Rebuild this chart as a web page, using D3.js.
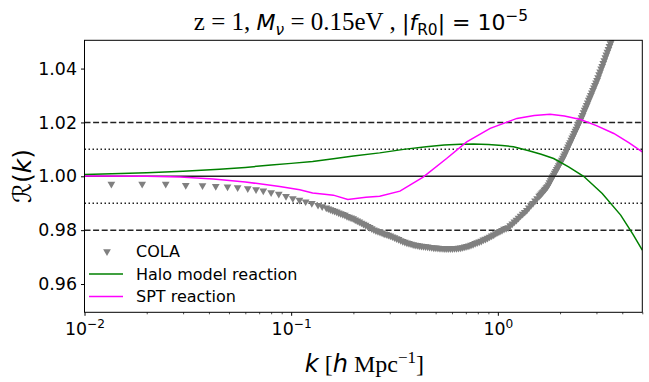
<!DOCTYPE html>
<html><head><meta charset="utf-8">
<script src="https://cdn.jsdelivr.net/npm/d3@7"></script>
<style>
html,body{margin:0;padding:0;background:#fff;}
svg{display:block;}
text{font-family:"DejaVu Sans",sans-serif;fill:#000;}
</style></head>
<body>
<svg id="chart" width="649" height="382"></svg>
<script>
// ---- data ----
// COLA points: log10(k [h/Mpc]) and reaction value
const colaLog10K = [-1.870,-1.721,-1.607,-1.510,-1.429,-1.365,-1.308,-1.259,-1.210,-1.170,-1.135,-1.097,-1.060,-1.025,-0.992,
-0.96,-0.93,-0.90,-0.87,-0.85,
-0.83,-0.82,-0.81,-0.80,-0.79,-0.78,-0.77,-0.76,-0.75,-0.74,-0.73,-0.72,-0.71,-0.70,-0.69,-0.68,-0.67,-0.66,-0.65,-0.64,
-0.63,-0.62,-0.61,-0.60,-0.59,-0.58,-0.57,-0.56,-0.55,-0.54,-0.53,-0.52,-0.51,-0.50,-0.49,-0.48,-0.47,-0.46,-0.45,-0.44,
-0.43,-0.42,-0.41,-0.40,-0.39,-0.38,-0.37,-0.36,-0.35,-0.34,-0.33,-0.32,-0.31,-0.30,-0.29,-0.28,-0.27,-0.26,-0.25,-0.24,
-0.23,-0.22,-0.21,-0.20,-0.19,-0.18,-0.17,-0.16,-0.15,-0.14,-0.13,-0.12,-0.11,-0.10,-0.09,-0.08,-0.07,-0.06,-0.05,-0.04,
-0.03,-0.02,-0.01,0.00,0.01,0.02,0.03,0.04,0.05,0.06,0.07,0.08,0.09,0.10,0.11,0.12,0.13,0.14,0.15,0.16,0.17,0.18,0.19,0.20,
0.205,0.21,0.215,0.22,0.225,0.23,0.235,0.24,0.245,0.25,0.255,0.26,0.265,0.27,0.275,0.28,0.285,0.29,0.295,0.30,
0.305,0.31,0.315,0.32,0.325,0.33,0.335,0.34,0.345,0.35,0.355,0.36,0.365,0.37,0.375,0.38,0.385,0.39,0.395,0.40,
0.405,0.41,0.415,0.42,0.425,0.43,0.435,0.44,0.445,0.45,0.455,0.46,0.465,0.47,0.475,0.48,0.485,0.49,0.495,0.50,
0.505,0.51,0.515,0.52,0.525,0.53,0.535,0.54,0.545,0.55,0.555,0.56];
const colaR = [0.9971,0.9971,0.9971,0.9967,0.9966,0.9963,0.9961,0.9958,0.9955,0.9951,0.9946,0.9940,0.9934,0.9926,0.9918,
0.9912,0.9906,0.9900,0.9893,0.9888,
0.9883,0.9880,0.9877,0.9874,0.9871,0.9868,0.9865,0.9862,0.9859,0.9856,0.9852,0.9849,0.9846,0.9843,0.9839,0.9835,0.9831,0.9827,0.9823,0.9819,
0.9815,0.9811,0.9806,0.9802,0.9799,0.9796,0.9793,0.9790,0.9787,0.9785,0.9782,0.9779,0.9776,0.9773,0.9769,0.9766,0.9762,0.9759,0.9756,0.9753,
0.9751,0.9749,0.9747,0.9745,0.9744,0.9742,0.9741,0.9740,0.9739,0.9738,0.9737,0.9736,0.9735,0.9735,0.9734,0.9733,0.9733,0.9732,0.9732,0.9732,
0.9732,0.9732,0.9733,0.9733,0.9734,0.9735,0.9736,0.9738,0.9740,0.9742,0.9745,0.9748,0.9751,0.9754,0.9757,0.9760,0.9764,0.9767,0.9771,0.9775,
0.9779,0.9783,0.9788,0.9792,0.9796,0.9800,0.9804,0.9807,0.9810,0.9817,0.9824,0.9831,0.9838,0.9845,0.9853,0.9860,0.9867,0.9874,0.9883,0.9892,0.9900,0.9909,0.9918,0.9927,
0.9931,0.9935,0.9940,0.9944,0.9949,0.9953,0.9958,0.9962,0.9969,0.9977,0.9984,0.9991,0.9998,1.0005,1.0012,1.0019,1.0026,1.0033,1.0040,1.0047,
1.0054,1.0061,1.0068,1.0076,1.0084,1.0093,1.0101,1.0110,1.0118,1.0126,1.0135,1.0143,1.0151,1.0160,1.0168,1.0176,1.0185,1.0193,1.0201,1.0209,
1.0218,1.0227,1.0237,1.0246,1.0255,1.0264,1.0273,1.0283,1.0292,1.0301,1.0310,1.0320,1.0329,1.0338,1.0347,1.0357,1.0367,1.0378,1.0388,1.0399,
1.0409,1.0420,1.0430,1.0441,1.0451,1.0462,1.0472,1.0483,1.0493,1.0504,1.0514,1.0525];

const haloK = [0.010,0.015,0.020,0.030,0.045,0.060,0.080,0.100,0.127,0.160,0.200,0.268,0.350,0.450,0.550,0.660,0.761,0.900,1.050,1.190,1.400,1.620,1.862,2.200,2.600,3.200,3.930,4.500,5.000];
const haloR = [1.0007,1.0010,1.0013,1.0019,1.0026,1.0033,1.0042,1.0048,1.0055,1.0065,1.0075,1.0087,1.0100,1.0110,1.0116,1.0119,1.0120,1.0118,1.0114,1.0110,1.0096,1.0082,1.0066,1.0035,1.0000,0.9936,0.9856,0.9785,0.9726];

const sptK = [0.010,0.020,0.029,0.042,0.060,0.088,0.110,0.127,0.145,0.160,0.188,0.230,0.268,0.336,0.435,0.565,0.707,0.918,1.237,1.500,1.790,2.100,2.510,3.000,3.640,4.300,5.000];
const sptR = [1.0001,1.0000,0.9997,0.9990,0.9979,0.9962,0.9950,0.9938,0.9933,0.9930,0.9914,0.9922,0.9926,0.9945,0.9997,1.0066,1.0128,1.0178,1.0215,1.0226,1.0230,1.0224,1.0211,1.0188,1.0159,1.0125,1.0091];

const refSolid = [1.00];
const refDashed = [1.02, 0.98];
const refDotted = [1.01, 0.99];
const yTicks = [0.96, 0.98, 1.00, 1.02, 1.04];
const xTicks = [0.01, 0.1, 1];
const xTickExp = ["\u22122", "\u22121", "0"];
const legendLabels = ["COLA", "Halo model reaction", "SPT reaction"];

// ---- layout ----
const L = 84.5, R = 642.3, T = 40.3, B = 312.3;
const svg = d3.select("#chart");
const x = d3.scaleLog().domain([0.01, 5]).range([L, R]);
const y = d3.scaleLinear().domain([0.9495, 1.0505]).range([B, T]);

svg.append("defs").append("clipPath").attr("id","clip")
  .append("rect").attr("x",L).attr("y",T).attr("width",R-L).attr("height",B-T);
const plot = svg.append("g").attr("clip-path","url(#clip)");

// reference lines
const hline = (vals, dash, w) => plot.selectAll(null).data(vals).enter().append("line")
  .attr("x1",L).attr("x2",R).attr("y1",d=>y(d)).attr("y2",d=>y(d))
  .attr("stroke","#222").attr("stroke-width",w).attr("stroke-dasharray",dash);
hline(refDashed, "6,2.6", 1.5);
hline(refDotted, "1.5,2.5", 1.5);

// COLA markers (down triangles)
const tri = d3.symbol().type(d3.symbolTriangle).size(26);
plot.selectAll("path.cola").data(colaLog10K.map((lk,i)=>[Math.pow(10,lk),colaR[i]])).enter().append("path")
  .attr("class","cola")
  .attr("d", tri)
  .attr("transform", d=>`translate(${x(d[0])},${y(d[1])}) rotate(180)`)
  .attr("fill","#808080");

hline(refSolid, null, 1.5);

const line = d3.line().x(d=>x(d[0])).y(d=>y(d[1]));
plot.append("path").datum(haloK.map((k,i)=>[k,haloR[i]]))
  .attr("d",line).attr("fill","none").attr("stroke","#008000").attr("stroke-width",1.5);
plot.append("path").datum(sptK.map((k,i)=>[k,sptR[i]]))
  .attr("d",line).attr("fill","none").attr("stroke","#ff00ff").attr("stroke-width",1.5);

// frame
svg.append("rect").attr("x",L).attr("y",T).attr("width",R-L).attr("height",B-T)
  .attr("fill","none").attr("stroke","#000").attr("stroke-width",1);

// y axis
const yAxis = d3.axisLeft(y).tickValues(yTicks).tickSize(3.5).tickPadding(4).tickFormat(d3.format(".2f"));
const gy = svg.append("g").attr("transform",`translate(${L},0)`).call(yAxis);
gy.select(".domain").remove();
gy.selectAll("text").attr("font-size","17.4px").attr("font-family","DejaVu Sans").attr("fill","#000");
gy.selectAll("line").attr("stroke","#000");

// x axis (major + minor)
const minor = [];
[0.01,0.1,1].forEach(dec=>{for(let m=2;m<=9;m++){const v=dec*m; if(v<=5) minor.push(v);}});
const gxm = svg.append("g").attr("transform",`translate(0,${B})`)
  .call(d3.axisBottom(x).tickValues(minor).tickSize(2).tickFormat(""));
gxm.select(".domain").remove();
gxm.selectAll("line").attr("stroke","#000").attr("stroke-width",0.7);
const gx = svg.append("g").attr("transform",`translate(0,${B})`)
  .call(d3.axisBottom(x).tickValues(xTicks).tickSize(3.5).tickFormat(""));
gx.select(".domain").remove();
gx.selectAll("line").attr("stroke","#000");
gx.selectAll("g.tick").append("text")
  .attr("y", 23).attr("text-anchor","middle").attr("font-size","17.4px").attr("fill","#000")
  .each(function(d,i){
    const t = d3.select(this);
    t.append("tspan").text("10");
    t.append("tspan").attr("dy",-7).attr("font-size","12.2px").text(xTickExp[i]);
  });

// x label
const xl = svg.append("text").attr("x",(L+R)/2+1).attr("y",372).attr("text-anchor","middle").attr("font-size","24px");
xl.append("tspan").attr("font-style","italic").text("k");
xl.append("tspan").attr("font-family","Liberation Serif").text(" [");
xl.append("tspan").attr("font-style","italic").text("h");
xl.append("tspan").attr("font-family","Liberation Serif").text(" Mpc");
xl.append("tspan").attr("font-family","Liberation Serif").attr("font-size","17px").attr("dy",-9).text("\u22121");
xl.append("tspan").attr("font-family","Liberation Serif").attr("dy",9).text("]");

// y label
const yl = svg.append("text").attr("transform","translate(31,176) rotate(-90)").attr("text-anchor","middle").attr("font-size","25px");
yl.append("tspan").text("\u211B(");
yl.append("tspan").attr("font-style","italic").text("k");
yl.append("tspan").text(")");

// title
const tt = svg.append("text").attr("x",361).attr("y",30).attr("text-anchor","middle").attr("font-size","22px");
tt.append("tspan").attr("font-family","Liberation Serif").attr("font-size","25px").text("z = 1, ");
tt.append("tspan").attr("font-style","italic").text("M");
tt.append("tspan").attr("font-style","italic").attr("font-size","15.4px").attr("dy",4.5).text("\u03BD");
tt.append("tspan").attr("font-family","Liberation Serif").attr("font-size","25px").attr("dy",-4.5).text(" = 0.15eV , ");
tt.append("tspan").text("|");
tt.append("tspan").attr("font-style","italic").text("f");
tt.append("tspan").attr("font-size","15.4px").attr("dy",4.5).text("R0");
tt.append("tspan").attr("dy",-4.5).text("| = 10");
tt.append("tspan").attr("font-size","15.4px").attr("dy",-9).text("\u22125");

// legend
const rows = [251.5, 274, 296.5];
const lg = svg.append("g");
lg.append("path").attr("d",tri).attr("transform",`translate(107,${rows[0]}) rotate(180)`).attr("fill","#808080");
lg.append("line").attr("x1",89).attr("x2",123).attr("y1",rows[1]).attr("y2",rows[1]).attr("stroke","#008000").attr("stroke-width",1.5);
lg.append("line").attr("x1",89).attr("x2",123).attr("y1",rows[2]).attr("y2",rows[2]).attr("stroke","#ff00ff").attr("stroke-width",1.5);
lg.selectAll("text.lg").data(legendLabels).enter().append("text").attr("class","lg")
  .attr("x",136).attr("y",(d,i)=>rows[i]+5.8).attr("font-size","16px").text(d=>d);
</script>
</body></html>
